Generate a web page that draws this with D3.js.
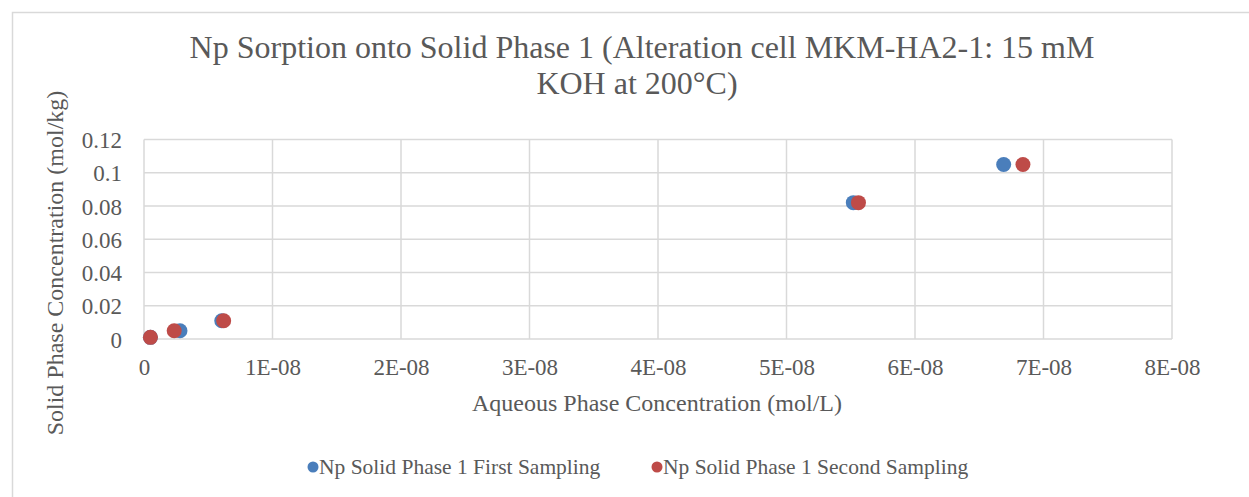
<!DOCTYPE html>
<html>
<head>
<meta charset="utf-8">
<script src="https://cdn.jsdelivr.net/npm/d3@7"></script>
<style>
  body { margin:0; background:#fff; }
  text { font-family:"Liberation Serif", "Times New Roman", serif; fill:#595959; }
</style>
</head>
<body>
<svg id="svg" width="1249" height="497"></svg>
<script>
// data
var seriesNames = ["Np Solid Phase 1 First Sampling", "Np Solid Phase 1 Second Sampling"];
var seriesColors = ["#4a7ebb", "#be4b48"];
var firstX  = [0.5e-9, 2.8e-9, 6.05e-9, 5.52e-8, 6.69e-8];
var firstY  = [0.001, 0.005, 0.011, 0.082, 0.105];
var secondX = [0.5e-9, 2.35e-9, 6.2e-9, 5.56e-8, 6.84e-8];
var secondY = [0.001, 0.005, 0.011, 0.082, 0.105];
var xTicks = [0, 1e-8, 2e-8, 3e-8, 4e-8, 5e-8, 6e-8, 7e-8, 8e-8];
var xTickLabels = ["0", "1E-08", "2E-08", "3E-08", "4E-08", "5E-08", "6E-08", "7E-08", "8E-08"];
var yTicks = [0, 0.02, 0.04, 0.06, 0.08, 0.1, 0.12];
var yTickLabels = ["0", "0.02", "0.04", "0.06", "0.08", "0.1", "0.12"];

var svg = d3.select("#svg"),
	margin = { left:144, right:77, top:139.5, bottom:158 },
	wsvg = +svg.attr("width"),
	hsvg = +svg.attr("height");

var x = d3.scaleLinear().domain([0, 8e-8]).range([margin.left, wsvg - margin.right]);
var y = d3.scaleLinear().domain([0, 0.12]).range([hsvg - margin.bottom, margin.top]);

// chart border
svg.append("rect")
	.attr("x", 12.5).attr("y", 12.5)
	.attr("width", 1260).attr("height", 500)
	.style("fill", "none").style("stroke", "#d9d9d9").style("stroke-width", 1.5);

// title
var title = svg.append("text")
	.attr("text-anchor", "middle")
	.style("font-size", "32px");
title.append("tspan").attr("x", 642).attr("y", 58)
	.text("Np Sorption onto Solid Phase 1 (Alteration cell MKM-HA2-1: 15 mM");
title.append("tspan").attr("x", 637).attr("y", 94)
	.text("KOH at 200°C)");

// gridlines
var grid = svg.append("g");
grid.selectAll(".hgrid").data(yTicks).enter().append("line")
	.attr("x1", x(0)).attr("x2", x(8e-8))
	.attr("y1", d => y(d)).attr("y2", d => y(d))
	.style("stroke", "#d9d9d9").style("stroke-width", 1.5);
grid.selectAll(".vgrid").data(xTicks).enter().append("line")
	.attr("x1", d => x(d)).attr("x2", d => x(d))
	.attr("y1", y(0)).attr("y2", y(0.12))
	.style("stroke", "#d9d9d9").style("stroke-width", 1.5);

// axes with d3, then strip the default lines
var xAxis = d3.axisBottom(x).tickValues(xTicks).tickSize(0).tickPadding(0)
	.tickFormat((d, i) => xTickLabels[i]);
var gx = svg.append("g").attr("transform", "translate(0," + y(0) + ")").call(xAxis);
gx.select(".domain").remove();
gx.selectAll("text").attr("dy", null).attr("y", 36)
	.style("font-size", "23px").style("font-family", "Liberation Serif").attr("fill", "#595959");

var yAxis = d3.axisLeft(y).tickValues(yTicks).tickSize(0).tickPadding(0)
	.tickFormat((d, i) => yTickLabels[i]);
var gy = svg.append("g").attr("transform", "translate(" + (x(0) - 22) + ",0)").call(yAxis);
gy.select(".domain").remove();
gy.selectAll("text").attr("dy", "0.35em")
	.style("font-size", "23px").style("font-family", "Liberation Serif").attr("fill", "#595959");

// axis titles
svg.append("text")
	.attr("x", 657).attr("y", 411)
	.attr("text-anchor", "middle")
	.style("font-size", "24px")
	.text("Aqueous Phase Concentration (mol/L)");

svg.append("text")
	.attr("transform", "translate(63,263) rotate(-90)")
	.attr("text-anchor", "middle")
	.style("font-size", "24px")
	.text("Solid Phase Concentration (mol/kg)");

// points
var series = [
	{ xs: firstX, ys: firstY },
	{ xs: secondX, ys: secondY }
];
series.forEach(function(s, k) {
	svg.append("g").selectAll("circle")
		.data(s.xs.map((v, i) => [v, s.ys[i]]))
		.enter().append("circle")
		.attr("cx", d => x(d[0]))
		.attr("cy", d => y(d[1]))
		.attr("r", 7.5)
		.style("fill", seriesColors[k]);
});

// legend
var legendX = [313, 657];
var lg = svg.append("g");
seriesNames.forEach(function(name, k) {
	lg.append("circle")
		.attr("cx", legendX[k]).attr("cy", 467).attr("r", 5.5)
		.style("fill", seriesColors[k]);
	lg.append("text")
		.attr("x", legendX[k] + 6).attr("y", 474)
		.style("font-size", "21.5px")
		.text(name);
});
</script>
</body>
</html>
